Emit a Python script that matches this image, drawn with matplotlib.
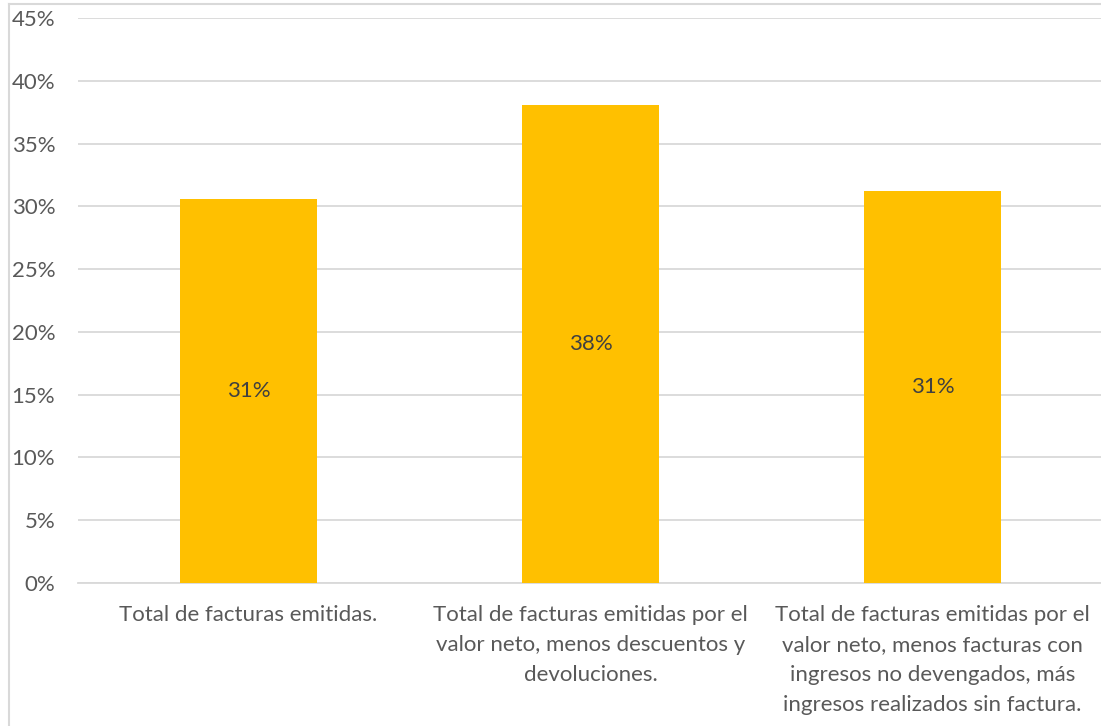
import numpy as np
import matplotlib.pyplot as plt
from matplotlib.lines import Line2D
from matplotlib.ticker import MultipleLocator, PercentFormatter

# datos
categorias = [
    "Total de facturas emitidas.",
    "Total de facturas emitidas por el\nvalor neto, menos descuentos y\ndevoluciones.",
    "Total de facturas emitidas por el\nvalor neto, menos facturas con\ningresos no devengados, más\ningresos realizados sin factura.",
]
valores = [30.6, 38.1, 31.2]
etiquetas = ["31%", "38%", "31%"]

plt.rcParams["font.family"] = ["Lato", "DejaVu Sans"]

fig = plt.figure(figsize=(11.01, 7.26), dpi=100)
ax = fig.add_axes([0.0704, 0.197, 0.932, 0.778])

x = np.arange(len(categorias))
barras = ax.bar(x, valores, width=0.4, color="#FFC000", zorder=3)

for b, txt in zip(barras, etiquetas):
    ax.text(b.get_x() + b.get_width() / 2, b.get_height() / 2, txt,
            ha="center", va="center", fontsize=16, color="#404040", zorder=4)

ax.set_xlim(-0.5, 2.5)
ax.set_ylim(0, 45)
ax.yaxis.set_major_locator(MultipleLocator(5))
ax.yaxis.set_major_formatter(PercentFormatter(decimals=0))
ax.grid(axis="y", color="#d9d9d9", linewidth=1.3, zorder=0)

for s in ["top", "right", "left"]:
    ax.spines[s].set_visible(False)
ax.spines["bottom"].set_color("#d9d9d9")
ax.spines["bottom"].set_linewidth(1.3)

ax.set_xticks(x)
ax.set_xticklabels(categorias, fontsize=16, color="#595959", linespacing=1.62)
ax.tick_params(axis="x", length=0, pad=16)
ax.tick_params(axis="y", length=0, pad=16, labelsize=16, labelcolor="#595959")

# marco del gráfico
fig.add_artist(Line2D([9 / 1101, 9 / 1101], [0, 722 / 726], color="#d9d9d9", lw=1.5))
fig.add_artist(Line2D([9 / 1101, 1], [722 / 726, 722 / 726], color="#d9d9d9", lw=1.5))

fig.savefig("out.png", dpi=100)
